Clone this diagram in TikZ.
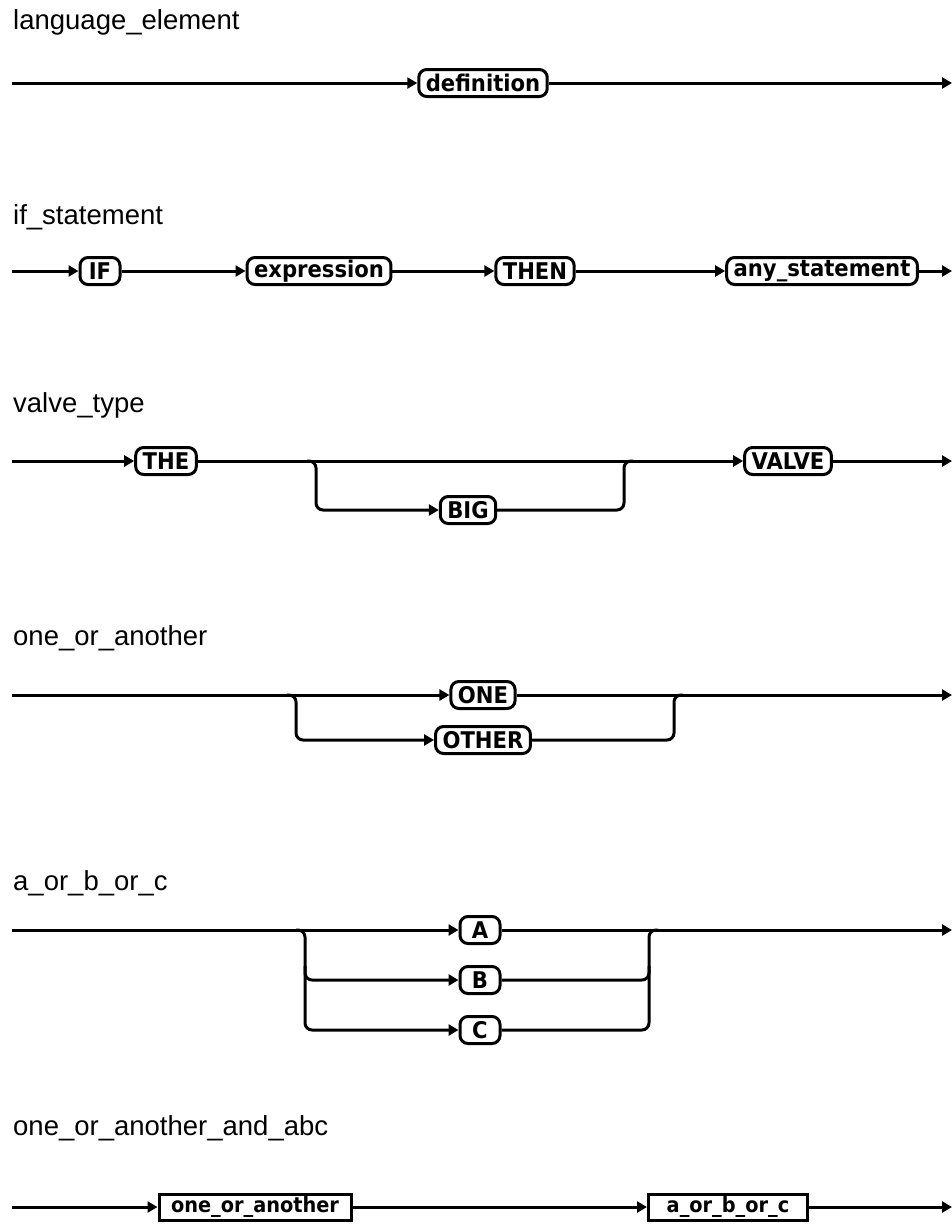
\documentclass[tikz,border=0pt]{standalone}
\usepackage{fontspec}
\setmainfont{Liberation Sans}
\newfontfamily\termfont[FakeStretch=0.92]{DejaVu Sans}
\usetikzlibrary{arrows.meta}
\begin{document}
\begin{tikzpicture}[x=1pt,y=-1pt,
  title/.style={anchor=base west,inner sep=0pt,font=\fontsize{27.5}{32}\selectfont},
  term/.style={draw,line width=3pt,rectangle,rounded corners=8pt,inner xsep=7pt,inner ysep=1pt,
    minimum height=27pt,minimum width=40pt,font=\termfont\bfseries\fontsize{23}{24}\selectfont},
  nterm/.style={draw,line width=3pt,rectangle,inner xsep=7pt,inner ysep=1pt,
    minimum height=26pt,font=\termfont\bfseries\fontsize{21}{22}\selectfont},
  conn/.style={line width=3pt},
  tip/.style={-{Triangle[length=10pt,width=11pt]}},
  arr/.style={conn,tip},
  branch/.style={conn,rounded corners=7pt}]
\useasboundingbox (0,0) rectangle (952,1227);

% ---- language_element
\node[title] (t1) at (13,29) {language\_element};
\coordinate (s1) at (12,83);
\coordinate (e1) at (952,83);
\node[term] (def) at (483,83) {definition};
\draw[arr] (s1) -- (def);
\draw[arr] (def) -- (e1);

% ---- if_statement
\node[title] (t2) at (13,224) {if\_statement};
\coordinate (s2) at (12,271);
\coordinate (e2) at (952,271);
\node[term] (if) at (100,271) {IF};
\node[term] (expr) at (319,271) {expression};
\node[term] (then) at (535,271) {THEN};
\node[term] (any) at (822,271) {any\_statement};
\draw[arr] (s2) -- (if);
\draw[arr] (if) -- (expr);
\draw[arr] (expr) -- (then);
\draw[arr] (then) -- (any);
\draw[arr] (any) -- (e2);

% ---- valve_type
\node[title] (t3) at (13,412) {valve\_type};
\coordinate (s3) at (12,461);
\coordinate (e3) at (952,461);
\node[term] (the) at (166,461) {THE};
\node[term] (big) at (468,510) {BIG};
\node[term] (valve) at (788,461) {VALVE};
\coordinate (b3l) at (316,461);
\coordinate (b3r) at (624,461);
\draw[arr] (s3) -- (the);
\draw[arr] (the) -- (valve);
\draw[arr] (valve) -- (e3);
\draw[branch,tip] (b3l) ++(-9,0) -- (b3l) -- (b3l |- big) -- (big);
\draw[branch] (big) -- (b3r |- big) -- (b3r) -- ++(9,0);

% ---- one_or_another
\node[title] (t4) at (13,645) {one\_or\_another};
\coordinate (s4) at (12,695);
\coordinate (e4) at (952,695);
\node[term] (one) at (483,695) {ONE};
\node[term] (other) at (483,740) {OTHER};
\coordinate (b4l) at (296,695);
\coordinate (b4r) at (674,695);
\draw[arr] (s4) -- (one);
\draw[arr] (one) -- (e4);
\draw[branch,tip] (b4l) ++(-9,0) -- (b4l) -- (b4l |- other) -- (other);
\draw[branch] (other) -- (b4r |- other) -- (b4r) -- ++(9,0);

% ---- a_or_b_or_c
\node[title] (t5) at (13,890) {a\_or\_b\_or\_c};
\coordinate (s5) at (12,930);
\coordinate (e5) at (952,930);
\node[term] (a) at (480,930) {A};
\node[term] (b) at (480,980) {B};
\node[term] (c) at (480,1030) {C};
\coordinate (b5l) at (305,930);
\coordinate (b5r) at (649,930);
\coordinate (b5lm) at (305,966);
\coordinate (b5rm) at (649,966);
\draw[arr] (s5) -- (a);
\draw[arr] (a) -- (e5);
\draw[branch,tip] (b5l) ++(-9,0) -- (b5l) -- (b5l |- c) -- (c);
\draw[branch,tip] (b5lm) -- (b5l |- b) -- (b);
\draw[branch] (c) -- (b5r |- c) -- (b5r) -- ++(9,0);
\draw[branch] (b) -- (b5r |- b) -- (b5rm);

% ---- one_or_another_and_abc
\node[title] (t6) at (13,1135) {one\_or\_another\_and\_abc};
\coordinate (s6) at (12,1207);
\coordinate (e6) at (952,1207);
\node[nterm,minimum width=192pt] (ooa) at (255,1207) {one\_or\_another};
\node[nterm,minimum width=159pt] (abc) at (728,1207) {a\_or\_b\_or\_c};
\draw[arr] (s6) -- (ooa);
\draw[arr] (ooa) -- (abc);
\draw[arr] (abc) -- (e6);
\end{tikzpicture}
\end{document}
